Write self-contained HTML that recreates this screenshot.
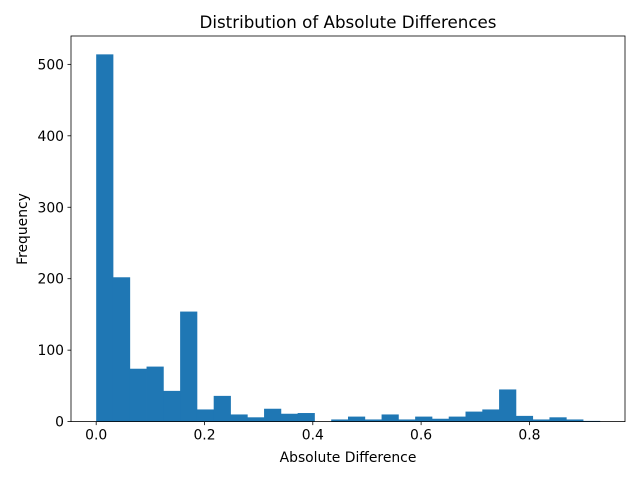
<!DOCTYPE html>
<html><head><meta charset="utf-8"><style>body{margin:0;background:#fff}svg{display:block;font-family:"DejaVu Sans","Liberation Sans",sans-serif}</style></head>
<body>
<svg id="c" width="640" height="480"></svg>
<script>
const counts=[514,202,74,77,43,154,17,36,10,6,18,11,12,0,3,7,3,10,3,7,4,7,14,17,45,8,3,6,3,1];
const binStart=0, binWidth=0.031;
const xTicks=[0,0.2,0.4,0.6,0.8];
const xTickLabels=["0.0","0.2","0.4","0.6","0.8"];
const yTicks=[0,100,200,300,400,500];
const T=36,B=421.6;
const left=71,right=625;
const xmax=binStart+binWidth*counts.length;
const pad=(xmax-binStart)*0.05;
const xs=v=>left+(v-(binStart-pad))/((xmax+pad)-(binStart-pad))*(right-left);
const ymaxV=Math.max(...counts)*1.05;
const ys=v=>B-v/ymaxV*(B-T);
const svg=document.getElementById('c');
const NS='http://www.w3.org/2000/svg';
function mk(t,a){const e=document.createElementNS(NS,t);for(const k in a)e.setAttribute(k,a[k]);svg.appendChild(e);return e;}
counts.forEach((c,i)=>{
 const x0=xs(binStart+i*binWidth),x1=xs(binStart+(i+1)*binWidth);
 const r=mk('rect',{x:x0,y:ys(c),width:x1-x0+0.4,height:B-ys(c),fill:'#1f77b4'});
 
 
});
const fr=mk('rect',{x:left,y:T,width:right-left,height:B-T,fill:'none',stroke:'#000','stroke-width':0.8});


xTicks.forEach((v,i)=>{
 mk('line',{x1:xs(v),x2:xs(v),y1:B,y2:B+3.5,stroke:'#000','stroke-width':0.8});
 const t=mk('text',{x:xs(v),y:B+18,'text-anchor':'middle','font-size':13.9});
 t.textContent=xTickLabels[i];
 
 
});
yTicks.forEach(v=>{
 mk('line',{x1:left,x2:left-3.5,y1:ys(v),y2:ys(v),stroke:'#000','stroke-width':0.8});
 const t=mk('text',{x:left-7,y:ys(v)+5,'text-anchor':'end','font-size':13.9});
 t.textContent=v;
 
 
});
let t=mk('text',{x:348,y:462,'text-anchor':'middle','font-size':13.9});t.textContent='Absolute Difference';


t=mk('text',{x:27,y:229,'text-anchor':'middle','font-size':13.9,transform:'rotate(-90 27 229)'});t.textContent='Frequency';


t=mk('text',{x:348,y:28,'text-anchor':'middle','font-size':16.7});t.textContent='Distribution of Absolute Differences';


</script>
</body></html>
